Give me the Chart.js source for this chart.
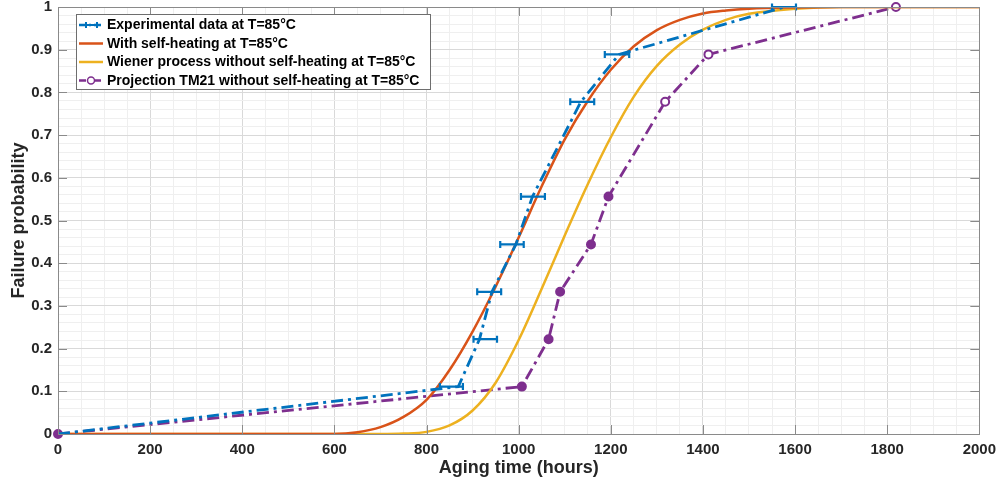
<!DOCTYPE html>
<html>
<head>
<meta charset="utf-8">
<script src="https://cdn.jsdelivr.net/npm/chart.js@4.4.0/dist/chart.umd.min.js"></script>
<style>
  html, body { margin: 0; padding: 0; background: #fff; }
</style>
</head>
<body>
<canvas id="chart" width="1003" height="488"></canvas>
<script>
// experimental data (hours, probability) with horizontal error limits
const expHours = [0, 869, 915, 942, 994, 1030, 1135, 1218, 1577];
const expProb = [0, 0.111, 0.222, 0.333, 0.444, 0.556, 0.778, 0.889, 1];
const expLow = [null, 829, 902, 910, 960, 1005, 1112, 1187, 1550];
const expHigh = [null, 879, 953, 962, 1011, 1057, 1164, 1240, 1602];

// model with self-heating
const redHours = [0, 600, 650, 700, 750, 800, 850, 900, 950, 1000, 1050, 1100, 1150, 1200, 1250, 1300, 1350, 1400, 1450, 1500, 1600, 1700, 2000];
const redProb = [0, 0, 0.004, 0.016, 0.04, 0.08, 0.15, 0.24, 0.345, 0.46, 0.58, 0.69, 0.78, 0.853, 0.908, 0.946, 0.97, 0.985, 0.992, 0.996, 0.999, 1, 1];

// Wiener process without self-heating
const yellowHours = [0, 700, 750, 800, 850, 900, 950, 1000, 1050, 1100, 1150, 1200, 1250, 1300, 1350, 1400, 1450, 1500, 1600, 1700, 2000];
const yellowProb = [0, 0, 0.001, 0.005, 0.02, 0.055, 0.12, 0.22, 0.34, 0.465, 0.585, 0.695, 0.79, 0.862, 0.912, 0.947, 0.97, 0.984, 0.996, 1, 1];

// TM21 projection
const tmHours = [0, 1007, 1065, 1090, 1157, 1195, 1318, 1412, 1819];
const tmProb = [0, 0.111, 0.222, 0.333, 0.444, 0.556, 0.778, 0.889, 1];

const xTicks = [0, 200, 400, 600, 800, 1000, 1200, 1400, 1600, 1800, 2000];
const yTicks = [0, 0.1, 0.2, 0.3, 0.4, 0.5, 0.6, 0.7, 0.8, 0.9, 1];

const blue = '#0072BD';
const red = '#D95319';
const yellow = '#EDB120';
const purple = '#7E2F8E';
const axisGray = '#8a8a8a';
const fontFam = '"Liberation Sans", Arial, Helvetica, sans-serif';

Chart.defaults.font.family = fontFam;
Chart.defaults.color = '#262626';

const toPts = (xs, ys) => xs.map((v, i) => ({ x: v, y: ys[i] }));
const dashDot = [12, 5, 3, 5];

const legendItems = [
  { text: 'Experimental data at T=85°C', color: blue, kind: 'err' },
  { text: 'With self-heating at T=85°C', color: red, kind: 'line' },
  { text: 'Wiener process without self-heating at T=85°C', color: yellow, kind: 'line' },
  { text: 'Projection TM21 without self-heating at T=85°C', color: purple, kind: 'circ' }
];

const extras = {
  id: 'extras',
  afterDatasetDraw(chart, args) {
    if (args.index !== 0) return;
    const { ctx, scales: { x, y } } = chart;
    ctx.save();
    ctx.strokeStyle = blue;
    ctx.lineWidth = 2.2;
    expProb.forEach((p, i) => {
      if (expLow[i] === null) return;
      const py = y.getPixelForValue(p);
      const x1 = x.getPixelForValue(expLow[i]);
      const x2 = x.getPixelForValue(expHigh[i]);
      ctx.beginPath();
      ctx.moveTo(x1, py); ctx.lineTo(x2, py);
      ctx.moveTo(x1, py - 3.5); ctx.lineTo(x1, py + 3.5);
      ctx.moveTo(x2, py - 3.5); ctx.lineTo(x2, py + 3.5);
      ctx.stroke();
    });
    ctx.restore();
  },
  afterDraw(chart) {
    const { ctx, chartArea: a, scales: { x, y } } = chart;
    ctx.save();
    // box + inward ticks
    ctx.strokeStyle = axisGray;
    ctx.lineWidth = 1;
    ctx.strokeRect(Math.round(a.left) + 0.5, Math.round(a.top) + 0.5, Math.round(a.right - a.left), Math.round(a.bottom - a.top));
    ctx.beginPath();
    xTicks.forEach(v => {
      const px = Math.round(x.getPixelForValue(v)) + 0.5;
      ctx.moveTo(px, a.bottom); ctx.lineTo(px, a.bottom - 9);
      ctx.moveTo(px, a.top); ctx.lineTo(px, a.top + 9);
    });
    yTicks.forEach(v => {
      const py = Math.round(y.getPixelForValue(v)) + 0.5;
      ctx.moveTo(a.left, py); ctx.lineTo(a.left + 9, py);
      ctx.moveTo(a.right, py); ctx.lineTo(a.right - 9, py);
    });
    ctx.stroke();

    // legend
    const bx = 76.5, by = 14.5, bw = 354, bh = 75;
    ctx.fillStyle = '#fff';
    ctx.fillRect(bx, by, bw, bh);
    ctx.strokeStyle = '#6e6e6e';
    ctx.strokeRect(bx, by, bw, bh);
    ctx.font = 'bold 14px ' + fontFam;
    ctx.textBaseline = 'middle';
    legendItems.forEach((it, i) => {
      const ry = 25 + i * 18.5;
      ctx.strokeStyle = it.color;
      ctx.lineWidth = 2.5;
      ctx.beginPath();
      if (it.kind === 'line') {
        ctx.setLineDash([]);
      } else {
        ctx.setLineDash([7, 3, 2, 3]);
      }
      ctx.moveTo(79, ry); ctx.lineTo(103, ry);
      ctx.stroke();
      ctx.setLineDash([]);
      if (it.kind === 'err') {
        ctx.lineWidth = 2;
        ctx.beginPath();
        ctx.moveTo(86, ry); ctx.lineTo(97, ry);
        ctx.moveTo(86, ry - 3); ctx.lineTo(86, ry + 3);
        ctx.moveTo(97, ry - 3); ctx.lineTo(97, ry + 3);
        ctx.stroke();
      } else if (it.kind === 'circ') {
        ctx.lineWidth = 1.5;
        ctx.fillStyle = '#fff';
        ctx.beginPath();
        ctx.arc(91, ry, 3.5, 0, Math.PI * 2);
        ctx.fill();
        ctx.stroke();
      }
      ctx.fillStyle = '#000';
      ctx.fillText(it.text, 107, ry + 0.5);
    });
    ctx.restore();
  }
};

const ctx = document.getElementById('chart').getContext('2d');
new Chart(ctx, {
  type: 'line',
  data: {
    datasets: [
      {
        label: 'Experimental data at T=85°C',
        data: toPts(expHours, expProb),
        borderColor: blue,
        borderWidth: 2.8,
        borderDash: dashDot,
        pointRadius: 0,
        tension: 0,
        fill: false
      },
      {
        label: 'With self-heating at T=85°C',
        data: toPts(redHours, redProb),
        borderColor: red,
        borderWidth: 2.5,
        pointRadius: 0,
        cubicInterpolationMode: 'monotone',
        fill: false
      },
      {
        label: 'Wiener process without self-heating at T=85°C',
        data: toPts(yellowHours, yellowProb),
        borderColor: yellow,
        borderWidth: 2.5,
        pointRadius: 0,
        cubicInterpolationMode: 'monotone',
        fill: false
      },
      {
        label: 'Projection TM21 without self-heating at T=85°C',
        data: toPts(tmHours, tmProb),
        borderColor: purple,
        borderWidth: 2.8,
        borderDash: dashDot,
        pointRadius: 4,
        pointBorderWidth: 2,
        pointBorderColor: purple,
        pointBackgroundColor: [purple, purple, purple, purple, purple, purple, '#fff', '#fff', '#fff'],
        tension: 0,
        clip: false,
        fill: false
      }
    ]
  },
  options: {
    responsive: false,
    devicePixelRatio: 1,
    animation: false,
    layout: { padding: { top: 7, right: 23, left: 0, bottom: 0 } },
    plugins: {
      legend: { display: false },
      tooltip: { enabled: false }
    },
    scales: {
      x: {
        type: 'linear',
        min: 0,
        max: 2000,
        afterFit: s => { s.height = 54; },
        border: { display: false },
        grid: {
          drawTicks: false,
          color: c => (c.tick && c.tick.value % 200 === 0) ? '#d9d9d9' : '#efefef'
        },
        ticks: {
          stepSize: 50,
          autoSkip: false,
          maxRotation: 0,
          padding: 7,
          font: { size: 15, weight: 'bold' },
          callback: v => (v % 200 === 0 ? String(v) : '')
        },
        title: {
          display: true,
          text: 'Aging time (hours)',
          font: { size: 18, weight: 'bold' },
          padding: { top: 0, bottom: 9 }
        }
      },
      y: {
        min: 0,
        max: 1,
        afterFit: s => { s.width = 58; s.paddingTop = 0; s.paddingBottom = 0; },
        border: { display: false },
        grid: {
          drawTicks: false,
          color: c => {
            const t = Math.round((c.tick ? c.tick.value : 0) * 50);
            return t % 5 === 0 ? '#d9d9d9' : '#efefef';
          }
        },
        ticks: {
          stepSize: 0.02,
          autoSkip: false,
          padding: 6,
          font: { size: 15, weight: 'bold' },
          callback: v => {
            const t = Math.round(v * 50);
            return t % 5 === 0 ? String(Math.round(v * 10) / 10) : '';
          }
        },
        title: {
          display: true,
          text: 'Failure probability',
          font: { size: 18, weight: 'bold' },
          padding: { top: 8, bottom: 0 }
        }
      }
    }
  },
  plugins: [extras]
});
</script>
</body>
</html>
